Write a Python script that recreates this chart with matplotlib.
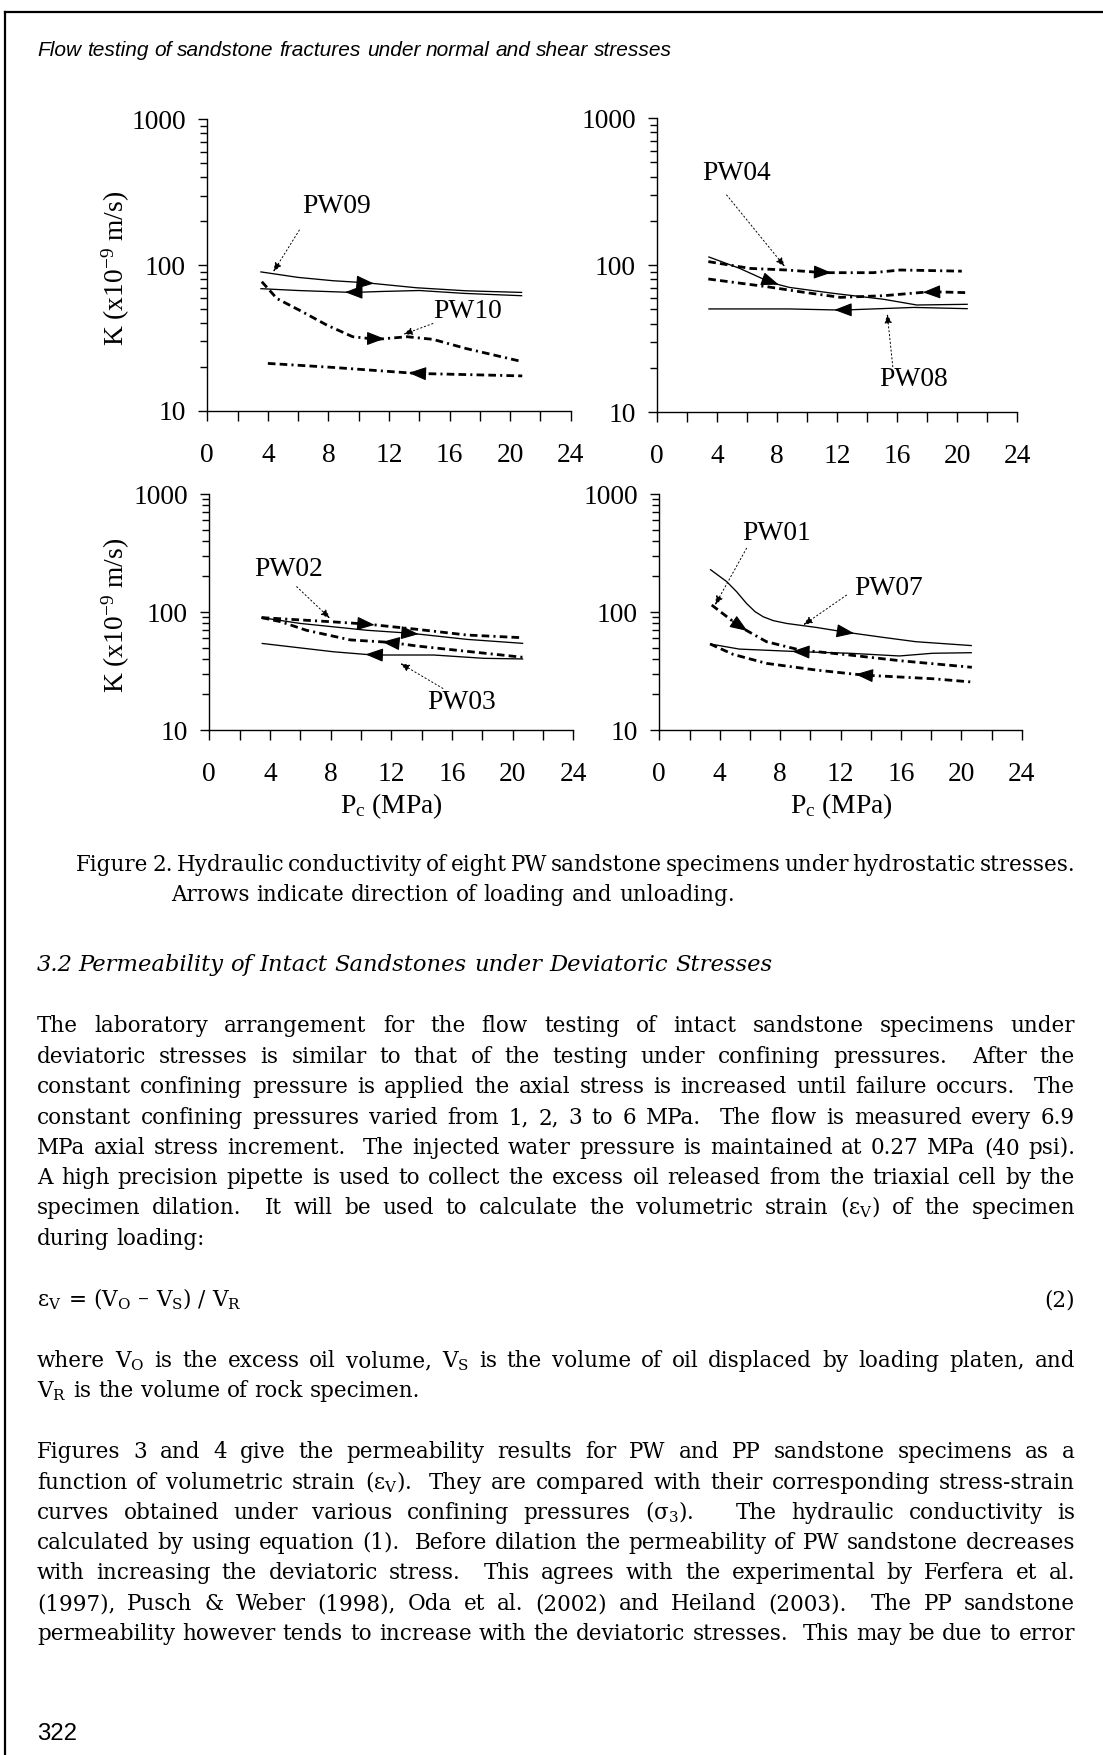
import numpy as np
import matplotlib
matplotlib.use("Agg")
import matplotlib.pyplot as plt
from matplotlib import font_manager
from matplotlib.ticker import FixedLocator, FixedFormatter, NullFormatter

# ---------------------------------------------------------------- data
x_ticks_major = [0, 4, 8, 12, 16, 20, 24]
x_tick_labels = ['0', '4', '8', '12', '16', '20', '24']
x_ticks_minor = [2, 6, 10, 14, 18, 22]
y_ticks = [10, 100, 1000]
y_tick_labels = ['10', '100', '1000']
y_minor = [m * d for d in (10, 100) for m in range(2, 10)]

# top-left panel: PW09 (solid) and PW10 (dash-dot)
pw09_load_p = [3.5, 6.0, 8.3, 10.5, 13.8, 17.1, 20.8]
pw09_load_k = [90, 82.4, 78.2, 75.7, 70, 66.7, 65]
pw09_unld_p = [3.5, 6.0, 9.6, 11.5, 14.0, 17.0, 20.8]
pw09_unld_k = [69, 67, 65, 66, 67, 64, 61.7]
pw10_load_p = [3.6, 4.6, 6.1, 7.9, 9.6, 11.2, 13.2, 14.9, 17.1, 20.8]
pw10_load_k = [77, 59, 49, 38.8, 32.3, 31, 32.3, 31, 26.8, 21.8]
pw10_unld_p = [4.0, 8.3, 11.6, 13.8, 20.8]
pw10_unld_k = [21.2, 19.9, 18.8, 18.1, 17.4]

# top-right panel: PW04 (dash-dot) and PW08 (solid)
pw04_load_p = [3.4, 6.2, 8.6, 11.1, 14.4, 16.2, 20.3]
pw04_load_k = [105.7, 95, 92.7, 88.9, 88.9, 92.7, 91]
pw04_unld_p = [3.4, 7.3, 9.5, 12.2, 15.1, 18.2, 20.7]
pw04_unld_k = [80.5, 71.4, 66, 60.4, 62, 66, 65]
pw08_load_p = [3.4, 5.5, 7.6, 8.8, 11.7, 15.1, 17.3, 20.7]
pw08_load_k = [114, 95, 76, 70.6, 64.4, 58.6, 53.6, 54.2]
pw08_unld_p = [3.4, 8.8, 12.3, 17.1, 20.7]
pw08_unld_k = [50.4, 50.4, 49.5, 51.6, 50.6]

# bottom-left panel: PW02 (dash-dot) and PW03 (solid)
pw02_load_p = [3.45, 7.96, 10.4, 13.7, 17.0, 20.7]
pw02_load_k = [89.6, 82.8, 79, 71.3, 63.8, 60.5]
pw02_unld_p = [3.45, 4.7, 6.4, 9.3, 11.9, 13.7, 17.2, 20.7]
pw02_unld_k = [89.6, 82.8, 70, 58, 55.3, 51.5, 46.1, 41.3]
pw03_load_p = [3.45, 6.0, 10.4, 13.3, 17.0, 20.7]
pw03_load_k = [89.6, 80, 70, 66, 58.6, 54.2]
pw03_unld_p = [3.45, 8.2, 10.8, 14.8, 18.1, 20.7]
pw03_unld_k = [54.2, 46, 43.2, 43.2, 40.5, 40]

# bottom-right panel: PW01 (dash-dot) and PW07 (solid)
pw07_load_p = [3.36, 4.46, 5.12, 5.78, 6.34, 6.89, 7.55, 8.43, 10.4, 12.4, 14.8, 17.0, 20.7]
pw07_load_k = [230, 181, 148.6, 118, 100.7, 91, 84.5, 80, 74, 67.3, 61, 56, 51.9]
pw07_unld_p = [3.36, 5.3, 9.3, 12.6, 15.9, 18.1, 20.7]
pw07_unld_k = [53.6, 48.5, 46.1, 44.7, 42.4, 44.7, 45.2]
pw01_load_p = [3.47, 5.34, 7.1, 9.3, 12.6, 15.9, 20.7]
pw01_load_k = [114.6, 75, 56, 47.7, 43.2, 38.7, 34]
pw01_unld_p = [3.36, 4.9, 7.1, 10.4, 13.5, 18.1, 20.7]
pw01_unld_k = [53.6, 43.7, 36.7, 32.2, 29.2, 27.2, 25.5]

# ---------------------------------------------------------------- style
plt.rcParams['lines.scale_dashes'] = False
plt.rcParams['mathtext.fontset'] = 'custom'
plt.rcParams['mathtext.rm'] = 'Liberation Serif'
plt.rcParams['mathtext.it'] = 'Liberation Serif:italic'
plt.rcParams['mathtext.bf'] = 'Liberation Serif:bold'
plt.rcParams['font.family'] = ['Liberation Serif', 'DejaVu Serif']

W, H, DPI = 1103, 1755, 100
installed = {f.name for f in font_manager.fontManager.ttflist}
CHART_FONT = 'Liberation Serif'
BODY_FONT = 'DejaVu Serif'
HEAD_FONT = 'Liberation Sans Narrow' if 'Liberation Sans Narrow' in installed else 'Liberation Sans'
CHART_FS = 19.8

SOLID = dict(color='black', lw=0.95, ls='-')
DASHED = dict(color='black', lw=2.0, ls=(0, (5.5, 3, 5.5, 3, 1.5, 3)))

fig = plt.figure(figsize=(W / DPI, H / DPI), dpi=DPI)
fig.patch.set_facecolor('white')
renderer = fig.canvas.get_renderer()

# page frame (top and left rules)
fig.add_artist(plt.Line2D([5 / W, 1.0], [1 - 12 / H, 1 - 12 / H], color='black', lw=1.6))
fig.add_artist(plt.Line2D([5 / W, 5 / W], [0.0, 1 - 12 / H], color='black', lw=1.6))


def make_ax(left, right, top, bottom):
    ax = fig.add_axes([left / W, 1 - bottom / H, (right - left) / W, (bottom - top) / H])
    ax.set_facecolor('none')
    ax.set_yscale('log')
    ax.set_xlim(0, 24)
    ax.set_ylim(10, 1000)
    for s in ('top', 'right'):
        ax.spines[s].set_visible(False)
    for s in ('left', 'bottom'):
        ax.spines[s].set_linewidth(1.0)
    ax.xaxis.set_major_locator(FixedLocator(x_ticks_major))
    ax.xaxis.set_major_formatter(FixedFormatter(x_tick_labels))
    ax.xaxis.set_minor_locator(FixedLocator(x_ticks_minor))
    ax.xaxis.set_minor_formatter(NullFormatter())
    ax.yaxis.set_major_locator(FixedLocator(y_ticks))
    ax.yaxis.set_major_formatter(FixedFormatter(y_tick_labels))
    ax.yaxis.set_minor_locator(FixedLocator(y_minor))
    ax.yaxis.set_minor_formatter(NullFormatter())
    ax.tick_params(axis='x', which='both', direction='out', length=7.2, width=1.0,
                   pad=15.5, labelsize=CHART_FS)
    ax.tick_params(axis='y', which='major', direction='out', length=6.5, width=1.0,
                   pad=9, labelsize=CHART_FS)
    ax.tick_params(axis='y', which='minor', direction='out', length=5.0, width=1.0)
    for lbl in ax.get_xticklabels() + ax.get_yticklabels():
        lbl.set_fontfamily(CHART_FONT)
    return ax


def curve(ax, p, k, style, arrow_at, direction):
    ax.plot(p, k, solid_capstyle='butt', **style)
    lk = np.log10(k)
    half = 0.5
    xt, xb = arrow_at + direction * half, arrow_at - direction * half
    ax.annotate('', xy=(xt, 10 ** np.interp(xt, p, lk)),
                xytext=(xb, 10 ** np.interp(xb, p, lk)),
                arrowprops=dict(arrowstyle='-|>,head_length=1.1,head_width=0.42',
                                mutation_scale=10, color='black', lw=0.8,
                                shrinkA=0, shrinkB=0))


def label(ax, name, txy, start, end):
    ax.text(txy[0], txy[1], name, ha='center', va='center', fontsize=CHART_FS,
            fontfamily=CHART_FONT)
    ax.annotate('', xy=end, xytext=start,
                arrowprops=dict(arrowstyle='-|>,head_length=0.55,head_width=0.22',
                                mutation_scale=10, color='black', lw=0.7,
                                linestyle=(0, (1, 1.8)), shrinkA=0, shrinkB=0))


ax1 = make_ax(207.3, 570.7, 119.3, 411.0)
curve(ax1, pw09_load_p, pw09_load_k, SOLID, 10.5, 1)
curve(ax1, pw09_unld_p, pw09_unld_k, SOLID, 9.6, -1)
curve(ax1, pw10_load_p, pw10_load_k, DASHED, 11.2, 1)
curve(ax1, pw10_unld_p, pw10_unld_k, DASHED, 13.8, -1)
label(ax1, 'PW09', (8.55, 251), (6.08, 174), (4.36, 90))
label(ax1, 'PW10', (17.2, 47.9), (14.9, 39.8), (12.95, 33.5))

ax2 = make_ax(657.3, 1017.3, 118.0, 412.3)
curve(ax2, pw04_load_p, pw04_load_k, DASHED, 11.1, 1)
curve(ax2, pw04_unld_p, pw04_unld_k, DASHED, 18.2, -1)
curve(ax2, pw08_load_p, pw08_load_k, SOLID, 7.6, 1)
curve(ax2, pw08_unld_p, pw08_unld_k, SOLID, 12.3, -1)
label(ax2, 'PW04', (5.29, 421), (4.62, 300), (8.5, 97.7))
label(ax2, 'PW08', (17.07, 16.6), (15.7, 20.4), (15.33, 46.6))

ax3 = make_ax(209.3, 573.3, 494.0, 730.0)
curve(ax3, pw02_load_p, pw02_load_k, DASHED, 10.4, 1)
curve(ax3, pw02_unld_p, pw02_unld_k, DASHED, 11.9, -1)
curve(ax3, pw03_load_p, pw03_load_k, SOLID, 13.3, 1)
curve(ax3, pw03_unld_p, pw03_unld_k, SOLID, 10.8, -1)
label(ax3, 'PW02', (5.2, 230), (5.76, 164), (7.96, 88.3))
label(ax3, 'PW03', (16.6, 17.1), (15.4, 22.5), (12.6, 36.7))

ax4 = make_ax(659.3, 1021.7, 494.0, 730.0)
curve(ax4, pw07_load_p, pw07_load_k, SOLID, 12.4, 1)
curve(ax4, pw07_unld_p, pw07_unld_k, SOLID, 9.3, -1)
curve(ax4, pw01_load_p, pw01_load_k, DASHED, 5.34, 1)
curve(ax4, pw01_unld_p, pw01_unld_k, DASHED, 13.5, -1)
label(ax4, 'PW01', (7.77, 464), (5.78, 347), (3.69, 114.6))
label(ax4, 'PW07', (15.2, 159), (12.4, 139), (9.54, 77.6))

# axis titles
for yc in (268, 615):
    fig.text(116 / W, 1 - yc / H, r'K (x10$^{-9}$ m/s)', rotation=90, ha='center',
             va='center', fontsize=CHART_FS, fontfamily=CHART_FONT)
for xc in (391, 841):
    fig.text(xc / W, 1 - 806 / H, r'P$_\mathrm{c}$ (MPa)', ha='center', va='center',
             fontsize=CHART_FS, fontfamily=CHART_FONT)

# ---------------------------------------------------------------- page text
BASE_OFF = 5  # baseline sits a few pixels below the visual line centre


def measure(s, **kw):
    t = fig.text(0, 0, s, **kw)
    w = t.get_window_extent(renderer).width
    t.remove()
    return w


def words_of(s):
    words, gaps, n = [], [], 0
    for p in s.split(' '):
        if p == '':
            n += 1
            continue
        if words:
            gaps.append(n)
        words.append(p)
        n = 1
    return words, gaps


def natural_width(s, **kw):
    words, gaps = words_of(s)
    space = measure('n n', **kw) - measure('nn', **kw)
    return sum(measure(w, **kw) for w in words) + space * sum(gaps)


def set_line(s, yc, x0, x1=None, **kw):
    words, gaps = words_of(s)
    widths = [measure(w, **kw) for w in words]
    space = measure('n n', **kw) - measure('nn', **kw)
    if x1 is not None and gaps:
        unit = (x1 - x0 - sum(widths)) / sum(gaps)
    else:
        unit = space
    x = x0
    for i, (w, wd) in enumerate(zip(words, widths)):
        fig.text(x / W, 1 - (yc + BASE_OFF) / H, w, ha='left', va='baseline', **kw)
        if i < len(gaps):
            x += wd + unit * gaps[i]


L, R = 37, 1075

para1 = [
    "The laboratory arrangement for the flow testing of intact sandstone specimens under",
    "deviatoric stresses is similar to that of the testing under confining pressures.  After the",
    "constant confining pressure is applied the axial stress is increased until failure occurs.  The",
    "constant confining pressures varied from 1, 2, 3 to 6 MPa.  The flow is measured every 6.9",
    "MPa axial stress increment.  The injected water pressure is maintained at 0.27 MPa (40 psi).",
    "A high precision pipette is used to collect the excess oil released from the triaxial cell by the",
    r"specimen dilation.  It will be used to calculate the volumetric strain (ε$_\mathrm{V}$) of the specimen",
    "during loading:",
]
para2 = [
    r"where V$_\mathrm{O}$ is the excess oil volume, V$_\mathrm{S}$ is the volume of oil displaced by loading platen, and",
    r"V$_\mathrm{R}$ is the volume of rock specimen.",
]
para3 = [
    "Figures 3 and 4 give the permeability results for PW and PP sandstone specimens as a",
    r"function of volumetric strain (ε$_\mathrm{V}$).  They are compared with their corresponding stress-strain",
    r"curves obtained under various confining pressures (σ$_\mathrm{3}$).   The hydraulic conductivity is",
    "calculated by using equation (1).  Before dilation the permeability of PW sandstone decreases",
    "with increasing the deviatoric stress.  This agrees with the experimental by Ferfera et al.",
    "(1997), Pusch & Weber (1998), Oda et al. (2002) and Heiland (2003).  The PP sandstone",
    "permeability however tends to increase with the deviatoric stresses.  This may be due to error",
]
caption1 = "Figure 2. Hydraulic conductivity of eight PW sandstone specimens under hydrostatic stresses."
caption2 = "Arrows indicate direction of loading and unloading."
section_no = "3.2"
section_title = "Permeability of Intact Sandstones under Deviatoric Stresses"
equation = r"ε$_\mathrm{V}$ = (V$_\mathrm{O}$ – V$_\mathrm{S}$) / V$_\mathrm{R}$"
equation_no = "(2)"
header = "Flow testing of sandstone fractures under normal and shear stresses"
page_no = "322"

base_kw = dict(fontfamily=BODY_FONT, math_fontfamily='dejavuserif')
justified = para1[:-1] + para2[:1] + para3
ref_size = 14.0
ratio = min((R - L) / natural_width(s, fontsize=ref_size, **base_kw) for s in justified)
BODY_FS = ref_size * ratio
body_kw = dict(fontsize=BODY_FS, **base_kw)

p1_y = [1027, 1058, 1088, 1119, 1149, 1179, 1209, 1240]
for i, (s, yc) in enumerate(zip(para1, p1_y)):
    set_line(s, yc, L, R if i < len(para1) - 1 else None, **body_kw)

set_line(equation, 1301, L, None, **body_kw)
fig.text(R / W, 1 - (1301 + BASE_OFF) / H, equation_no, ha='right', va='baseline', **body_kw)

set_line(para2[0], 1362, L, R, **body_kw)
set_line(para2[1], 1392, L, None, **body_kw)

p3_y = [1453, 1484, 1514, 1544, 1574, 1605, 1635, 1665]
for s, yc in zip(para3, p3_y):
    set_line(s, yc, L, R, **body_kw)

# figure caption
set_line(caption1, 866, 76, R, **body_kw)
set_line(caption2, 896, 171, None, **body_kw)

# section heading
it_kw = dict(fontfamily=BODY_FONT, fontstyle='italic')
sec_fs = 12.0 * (770 - 78) / natural_width(section_title, fontsize=12.0, **it_kw)
fig.text(L / W, 1 - (966 + BASE_OFF) / H, section_no, ha='left', va='baseline',
         fontsize=sec_fs, **it_kw)
set_line(section_title, 966, 78, None, fontsize=sec_fs, **it_kw)

# running header and page number
hd_kw = dict(fontfamily=HEAD_FONT, fontstyle='italic')
hd_fs = 12.0 * (672 - L) / natural_width(header, fontsize=12.0, **hd_kw)
set_line(header, 51, L, None, fontsize=hd_fs, **hd_kw)
fig.text(L / W, 1 - (1733 + 7) / H, page_no, ha='left', va='baseline',
         fontsize=hd_fs * 1.15, fontfamily=HEAD_FONT)

fig.savefig('out.png', dpi=DPI, facecolor='white')
